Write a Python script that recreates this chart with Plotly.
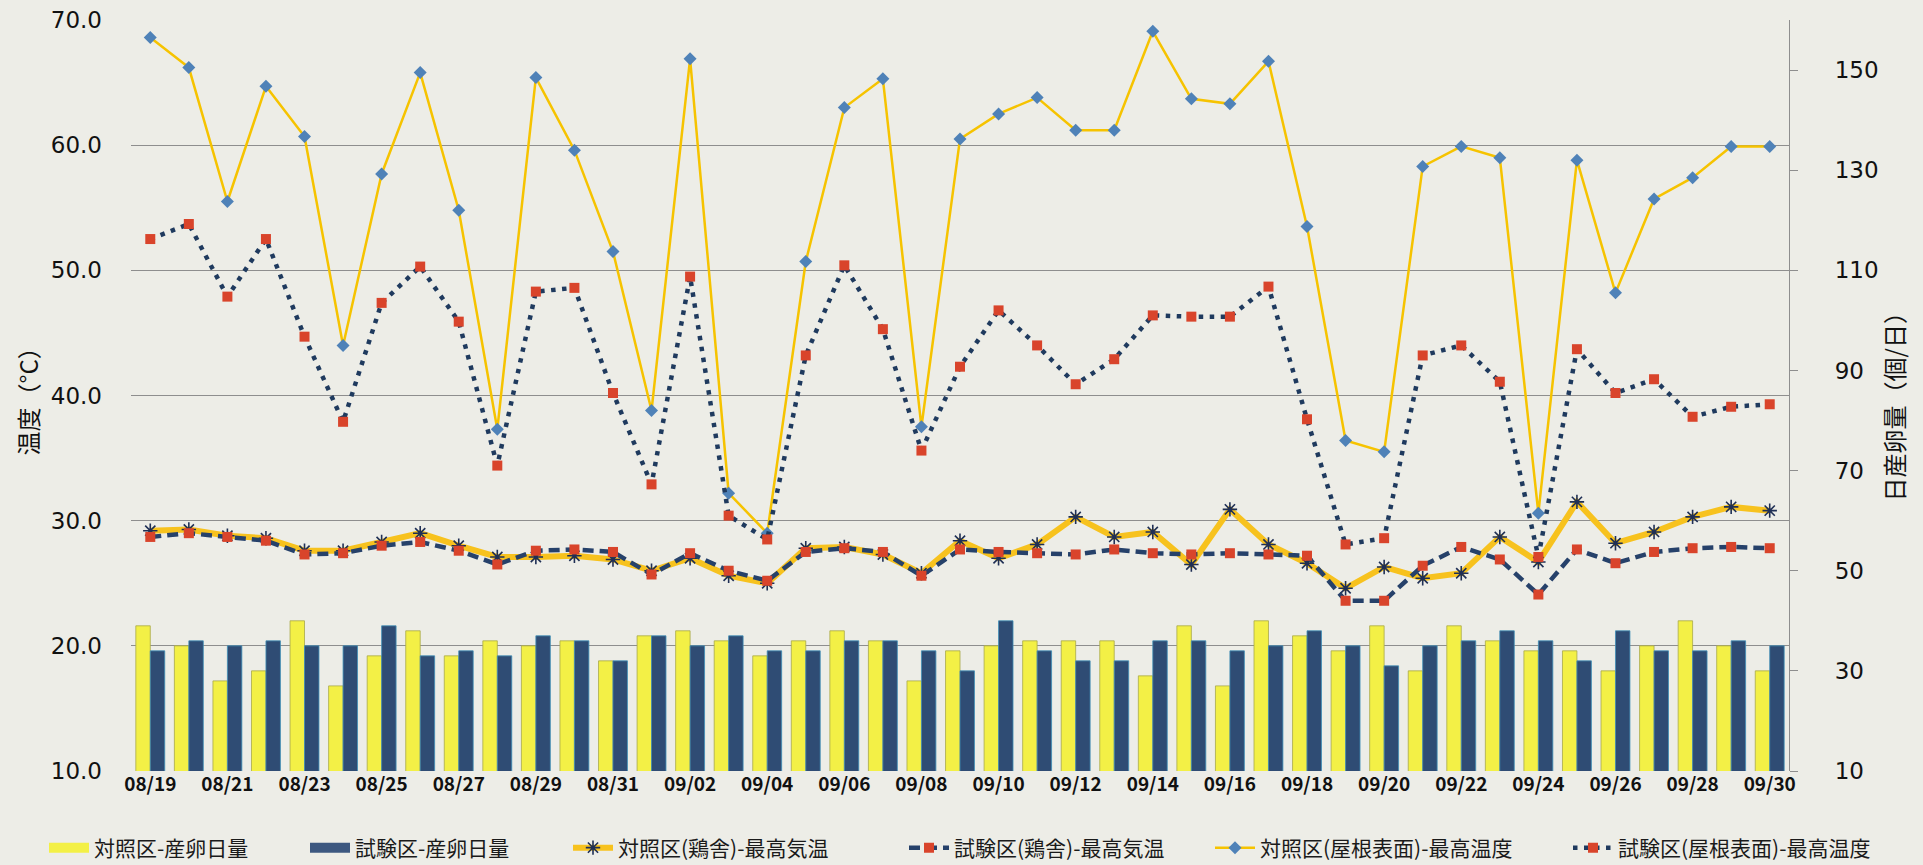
import plotly.graph_objects as go

# 日付 (08/19 - 09/30)
dates = ["08/19", "08/20", "08/21", "08/22", "08/23", "08/24", "08/25", "08/26", "08/27", "08/28",
         "08/29", "08/30", "08/31", "09/01", "09/02", "09/03", "09/04", "09/05", "09/06", "09/07",
         "09/08", "09/09", "09/10", "09/11", "09/12", "09/13", "09/14", "09/15", "09/16", "09/17",
         "09/18", "09/19", "09/20", "09/21", "09/22", "09/23", "09/24", "09/25", "09/26", "09/27",
         "09/28", "09/29", "09/30"]

# 産卵日量 (個/日)
eggs_control = [39, 35, 28, 30, 40, 27, 33, 38, 33, 36, 35, 36, 32, 37, 38, 36, 33, 36, 38, 36,
                28, 34, 35, 36, 36, 36, 29, 39, 27, 40, 37, 34, 39, 30, 39, 36, 34, 34, 30, 35,
                40, 35, 30]
eggs_test = [34, 36, 35, 36, 35, 35, 39, 33, 34, 33, 37, 36, 32, 37, 35, 37, 34, 34, 36, 36,
             34, 30, 40, 34, 32, 32, 36, 36, 34, 35, 38, 35, 31, 35, 36, 38, 36, 32, 38, 34,
             34, 36, 35]

# 鶏舎 最高気温 (°C)
house_control = [29.2, 29.3, 28.8, 28.6, 27.6, 27.6, 28.3, 29.0, 28.0, 27.1, 27.1, 27.2, 26.9, 26.0,
                 27.0, 25.6, 25.0, 27.8, 27.9, 27.3, 25.8, 28.4, 27.0, 28.1, 30.3, 28.7, 29.1, 26.5,
                 30.9, 28.1, 26.6, 24.6, 26.3, 25.4, 25.8, 28.7, 26.7, 31.5, 28.2, 29.1, 30.3, 31.1,
                 30.8]
house_test = [28.7, 29.0, 28.7, 28.4, 27.3, 27.4, 28.0, 28.3, 27.6, 26.5, 27.6, 27.7, 27.5, 25.7,
              27.4, 26.0, 25.2, 27.5, 27.8, 27.5, 25.6, 27.7, 27.5, 27.4, 27.3, 27.7, 27.4, 27.3,
              27.4, 27.3, 27.2, 23.6, 23.6, 26.4, 27.9, 26.9, 24.1, 27.7, 26.6, 27.5, 27.8, 27.9,
              27.8]

# 屋根表面 最高温度 (°C)
roof_control = [68.6, 66.2, 55.5, 64.7, 60.7, 44.0, 57.7, 65.8, 54.8, 37.3, 65.4, 59.6, 51.5, 38.8,
                66.9, 32.2, 29.0, 50.7, 63.0, 65.3, 37.5, 60.5, 62.5, 63.8, 61.2, 61.2, 69.1, 63.7,
                63.3, 66.7, 53.5, 36.4, 35.5, 58.3, 59.9, 59.0, 30.6, 58.8, 48.2, 55.7, 57.4, 59.9,
                59.9]
roof_test = [52.5, 53.7, 47.9, 52.5, 44.7, 37.9, 47.4, 50.3, 45.9, 34.4, 48.3, 48.6, 40.2, 32.9,
             49.5, 30.4, 28.5, 43.2, 50.4, 45.3, 35.6, 42.3, 46.8, 44.0, 40.9, 42.9, 46.4, 46.3,
             46.3, 48.7, 38.1, 28.1, 28.6, 43.2, 44.0, 41.1, 27.1, 43.7, 40.2, 41.3, 38.3, 39.1,
             39.3]

x_ticks = dates[::2]

FONT = "Noto Sans CJK JP"
NUM_FONT = "DejaVu Sans"
BG = "#ededE7"
W, H = 1923, 865

YELLOW_BAR = "#f3f046"
BLUE_BAR = "#2f4c74"

fig = go.Figure()

# 産卵日量 (棒グラフ, 右軸)
fig.add_trace(go.Bar(
    x=dates, y=eggs_control, name="対照区-産卵日量", yaxis="y2", showlegend=False,
    marker=dict(color=YELLOW_BAR, line=dict(color="#a8a84a", width=0.8)),
))
fig.add_trace(go.Bar(
    x=dates, y=eggs_test, name="試験区-産卵日量", yaxis="y2", showlegend=False,
    marker=dict(color=BLUE_BAR, line=dict(color="#3f8fb8", width=0.8)),
))
# 凡例用の帯状シンボル
fig.add_trace(go.Scatter(
    x=[None], y=[None], name="対照区-産卵日量", mode="lines", legend="legend",
    line=dict(color=YELLOW_BAR, width=13),
))
fig.add_trace(go.Scatter(
    x=[None], y=[None], name="試験区-産卵日量", mode="lines", legend="legend2",
    line=dict(color="#3d5880", width=13),
))

fig.add_trace(go.Scatter(
    x=dates, y=house_control, name="対照区(鶏舎)-最高気温", mode="lines+markers", legend="legend3",
    line=dict(color="#f7c21e", width=6),
    marker=dict(symbol="asterisk", size=12, color="#1f2f55", line=dict(color="#1f2f55", width=1.6)),
))
fig.add_trace(go.Scatter(
    x=dates, y=house_test, name="試験区(鶏舎)-最高気温", mode="lines+markers", legend="legend4",
    line=dict(color="#26416a", width=4.5, dash="11px,6px"),
    marker=dict(symbol="square", size=10, color="#d9442b"),
))
fig.add_trace(go.Scatter(
    x=dates, y=roof_control, name="対照区(屋根表面)-最高温度", mode="lines+markers", legend="legend5",
    line=dict(color="#f6c300", width=2.5),
    marker=dict(symbol="diamond", size=10, color="#4f82b8"),
))
fig.add_trace(go.Scatter(
    x=dates, y=roof_test, name="試験区(屋根表面)-最高温度", mode="lines+markers", legend="legend6",
    line=dict(color="#1f3a5e", width=4.5, dash="4.5px,6.5px"),
    marker=dict(symbol="square", size=10, color="#d9442b"),
))

# 凡例: 下部に横一列
legend_x = [44, 305, 568, 904, 1210, 1568]
legend_common = dict(
    orientation="h", xref="container", yref="container", yanchor="middle", xanchor="left",
    bgcolor="rgba(0,0,0,0)", font=dict(family=FONT, size=21, color="#1a1a1a"),
    itemwidth=40, tracegroupgap=0, visible=True,
)
legends = {}
for i, lx in enumerate(legend_x):
    key = "legend" if i == 0 else f"legend{i + 1}"
    legends[key] = dict(legend_common, x=lx / W, y=1 - 848 / H)

fig.update_layout(
    width=W, height=H,
    paper_bgcolor=BG, plot_bgcolor=BG,
    margin=dict(l=131, r=134, t=20, b=94, autoexpand=False),
    showlegend=True,
    barmode="group", bargap=0.25, bargroupgap=0,
    font=dict(family=FONT, color="#1a1a1a"),
    xaxis=dict(
        type="category", range=[-0.5, len(dates) - 0.5], autorange=False,
        tickmode="array", tickvals=x_ticks, ticktext=x_ticks,
        tickfont=dict(family=FONT, size=19, color="#111", weight=600), ticks="", showgrid=False,
        showline=False, zeroline=False,
    ),
    yaxis=dict(
        range=[10, 70], dtick=10, tick0=10, tickformat=".1f",
        showgrid=True, gridcolor="#8e8e8e", gridwidth=1.2,
        tickfont=dict(family=NUM_FONT, size=23, color="#111"), ticks="", ticklabelstandoff=28,
        showline=False, zeroline=False,
    ),
    yaxis2=dict(
        range=[10, 160], tickvals=[10, 30, 50, 70, 90, 110, 130, 150], overlaying="y", side="right",
        showgrid=False, showline=True, linecolor="#8e8e8e", linewidth=1.2,
        ticks="outside", ticklen=8, tickcolor="#8e8e8e", ticklabelstandoff=32,
        tickfont=dict(family=NUM_FONT, size=23, color="#111"), zeroline=False,
    ),
    annotations=[
        dict(text="温度（°C）", xref="paper", yref="paper", x=0.0, y=0.5,
             xanchor="center", yanchor="middle", xshift=-104, yshift=0,
             textangle=-90, showarrow=False,
             font=dict(family=FONT, size=24, color="#111")),
        dict(text="日産卵量（個/日）", xref="paper", yref="paper", x=1.0, y=0.5,
             xanchor="center", yanchor="middle", xshift=104, yshift=-6,
             textangle=-90, showarrow=False,
             font=dict(family=FONT, size=24, color="#111")),
    ],
    **legends,
)

fig.write_html("out.html")
